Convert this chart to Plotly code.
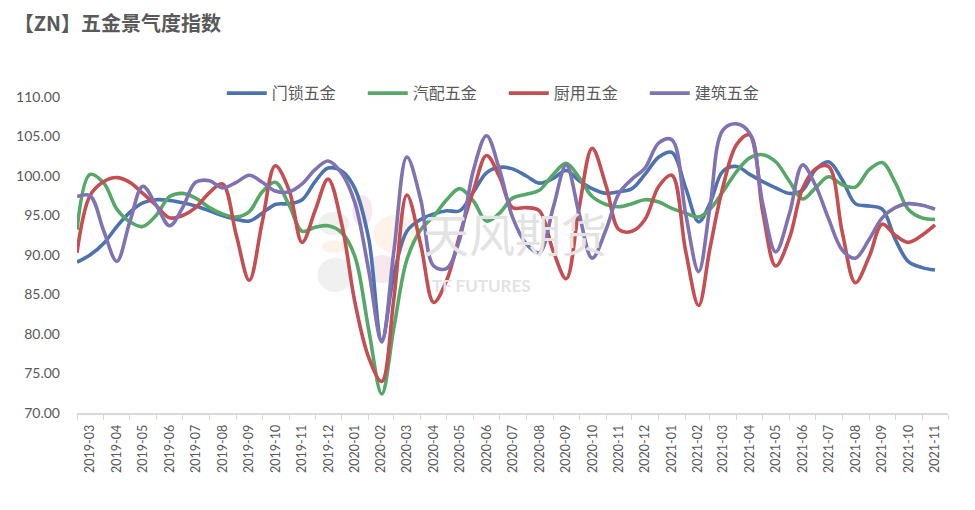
import plotly.graph_objects as go

# tick labels (one per month) - each month is sampled at the 1st and the 16th
months = [
    "2019-03", "2019-04", "2019-05", "2019-06", "2019-07", "2019-08", "2019-09",
    "2019-10", "2019-11", "2019-12", "2020-01", "2020-02", "2020-03", "2020-04",
    "2020-05", "2020-06", "2020-07", "2020-08", "2020-09", "2020-10", "2020-11",
    "2020-12", "2021-01", "2021-02", "2021-03", "2021-04", "2021-05", "2021-06",
    "2021-07", "2021-08", "2021-09", "2021-10", "2021-11",
]
dates = []
for m in months:
    dates.append(m + "-01")
    dates.append(m + "-16")

menso = [  # 门锁五金
    89.1, 90.0, 91.5, 93.6, 95.4, 96.6, 97.0, 96.9, 96.6, 96.2, 95.6, 95.0,
    94.5, 94.3, 95.3, 96.4, 96.5, 97.0, 99.3, 101.0, 100.6, 98.4, 92.0, 79.2,
    87.5, 93.0, 94.5, 95.2, 95.6, 95.6, 98.0, 100.4, 101.1, 100.9, 100.0, 99.1,
    99.7, 100.7, 99.4, 98.4, 97.8, 98.0, 98.4, 100.2, 102.4, 103.0, 98.5, 94.2,
    96.5, 100.6, 101.2, 100.2, 99.3, 98.5, 97.8, 98.2, 100.8, 101.8, 99.5, 96.5,
    96.2, 95.8, 92.0, 89.2, 88.4, 88.1,
]
qipei = [  # 汽配五金
    93.2, 100.2, 99.1, 95.8, 94.2, 93.6, 95.1, 97.4, 97.8, 97.2, 96.0, 95.2,
    94.8, 95.5, 98.0, 99.2, 96.3, 93.0, 93.5, 93.7, 92.8, 89.8, 80.5, 72.4,
    80.8, 89.4, 93.2, 94.9, 97.0, 98.4, 96.8, 94.3, 95.3, 97.2, 97.7, 98.2,
    100.2, 101.6, 99.8, 97.4, 96.4, 96.1, 96.5, 97.0, 96.7, 95.9, 95.3, 94.8,
    95.8, 98.0, 100.6, 102.3, 102.7, 101.8, 99.3, 97.1, 98.5, 99.9, 98.9, 98.6,
    100.8, 101.7, 99.2, 95.8, 94.7, 94.5,
]
chuyong = [  # 厨用五金
    90.3, 97.5, 99.3, 99.8, 99.2, 97.8, 96.2, 94.7, 95.0, 96.0, 97.9, 99.0,
    92.5, 86.8, 94.2, 101.3, 98.2, 91.6, 95.6, 99.6, 93.8, 84.0, 77.0, 74.0,
    84.5, 97.6, 91.3, 84.0, 86.8, 92.5, 98.2, 102.6, 99.9, 96.0, 96.0, 95.6,
    90.5, 87.0, 96.0, 103.5, 98.8, 93.2, 93.0, 94.5, 98.7, 100.1, 90.5, 83.6,
    90.8, 98.6, 104.0, 105.2, 95.5, 88.6, 92.2, 98.4, 100.9, 101.2, 92.8, 86.5,
    89.8, 93.9, 92.5, 91.6, 92.5, 93.8,
]
jianzhu = [  # 建筑五金
    97.4, 97.5, 93.0, 89.2, 94.2, 98.7, 96.2, 93.7, 96.0, 99.2, 99.4, 98.5,
    99.2, 100.1, 99.2, 98.1, 98.0, 99.0, 100.8, 101.9, 100.3, 96.6, 88.0, 79.0,
    90.5, 102.4, 97.0, 88.6, 88.3, 92.0, 100.8, 105.1, 100.8, 94.8, 91.4, 90.3,
    96.0, 101.4, 95.2, 89.6, 93.2, 97.8, 99.6, 101.0, 104.2, 104.6, 95.2, 87.9,
    96.0, 105.8, 106.6, 105.4, 96.5, 90.4, 95.3, 101.4, 98.8, 94.6, 90.6, 89.6,
    92.0, 94.7, 96.0, 96.5, 96.3, 95.8,
]

series = [
    ("门锁五金", menso, "#4C72B0"),
    ("汽配五金", qipei, "#55A868"),
    ("厨用五金", chuyong, "#C44E52"),
    ("建筑五金", jianzhu, "#8172B2"),
]

font_cn = "Noto Sans CJK SC, Lato, sans-serif"
grey = "#595959"

fig = go.Figure()
for name, vals, color in series:
    fig.add_trace(go.Scatter(
        x=dates, y=vals, name=name, mode="lines",
        line=dict(color=color, width=3.6, shape="spline", smoothing=1.0),
    ))

# faint logo blobs + watermark text behind the lines
blobs = [
    (0.277, 0.563, 0.313, 0.636, "rgba(225,225,225,0.5)"),
    (0.316, 0.589, 0.339, 0.690, "rgba(238,210,220,0.5)"),
    (0.340, 0.506, 0.394, 0.627, "rgba(252,232,212,0.5)"),
    (0.281, 0.506, 0.310, 0.547, "rgba(252,232,212,0.5)"),
    (0.333, 0.411, 0.367, 0.500, "rgba(238,210,220,0.5)"),
    (0.276, 0.383, 0.317, 0.491, "rgba(225,225,225,0.5)"),
]
for x0, y0, x1, y1, c in blobs:
    fig.add_shape(type="circle", xref="paper", yref="paper", x0=x0, y0=y0, x1=x1, y1=y1,
                  fillcolor=c, line=dict(width=0), layer="below")

fig.add_annotation(text="天风期货", xref="paper", yref="paper", x=0.395, y=0.572,
                   showarrow=False, font=dict(size=46, color="#e3e3e3", family=font_cn),
                   xanchor="left", yanchor="middle")
fig.add_annotation(text="<b>TF FUTURES</b>", xref="paper", yref="paper", x=0.405, y=0.405,
                   showarrow=False, font=dict(size=17, color="#e3e3e3", family="Lato, sans-serif"),
                   xanchor="left", yanchor="middle")

# the page adds an 8px body margin, so the margins are shifted by 8px
fig.update_layout(
    width=975, height=510,
    paper_bgcolor="white", plot_bgcolor="white",
    margin=dict(l=69, r=35, t=89, b=105, autoexpand=False),
    font=dict(family=font_cn, color=grey, size=13),
    title=dict(text="<b>【ZN】五金景气度指数</b>", xref="container", yref="container",
               x=0.006, y=0.968, xanchor="left", yanchor="middle",
               font=dict(size=20, color=grey, family=font_cn)),
    legend=dict(orientation="h", xref="paper", yref="paper", x=0.49, y=1.012,
                xanchor="center", yanchor="middle", font=dict(size=16, color=grey),
                entrywidth=86, entrywidthmode="pixels",
                itemwidth=40, tracegroupgap=0, bgcolor="rgba(0,0,0,0)"),
    showlegend=True,
)
fig.update_xaxes(
    type="date", range=["2019-03-01", "2021-12-01"], automargin=False,
    dtick="M1", tick0="2019-03-01", tickformat="%Y-%m", ticklabelmode="period",
    tickangle=-90, tickfont=dict(size=12.5, color=grey, family="Lato, sans-serif"),
    showline=True, linecolor="#d9d9d9", linewidth=1.5,
    ticks="outside", ticklen=5, tickcolor="#d9d9d9",
    showgrid=False, zeroline=False,
)
fig.update_yaxes(
    range=[70, 110], dtick=5, tickformat=".2f", automargin=False,
    tickfont=dict(size=14, color=grey, family="Lato, sans-serif"),
    showgrid=False, zeroline=False, showline=False, ticks="",
    ticklabelstandoff=16,
)

fig.write_html("out.html")
